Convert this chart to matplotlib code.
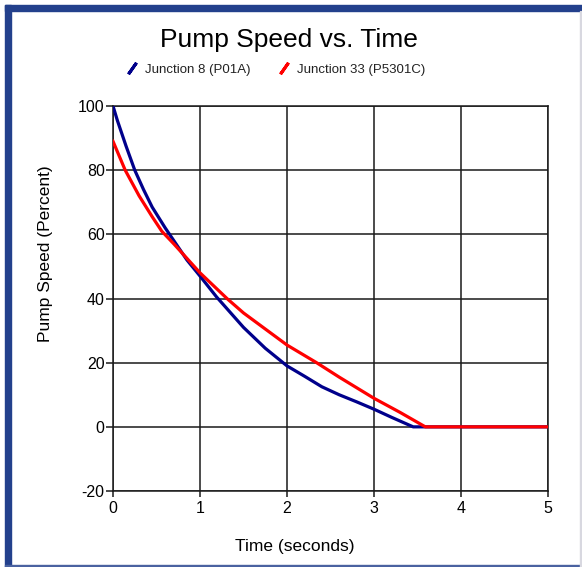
import matplotlib
matplotlib.use("Agg")
import matplotlib.pyplot as plt
from matplotlib.lines import Line2D
from matplotlib.patches import Rectangle

plt.rcParams['font.family'] = ['Liberation Sans', 'DejaVu Sans']
plt.rcParams['axes.unicode_minus'] = False

# Datos
t_j8 = [0.0, 0.05, 0.1, 0.15, 0.25, 0.35, 0.45, 0.6, 0.7, 0.85, 1.0, 1.19, 1.5, 1.75,
        2.0, 2.2, 2.4, 2.6, 2.8, 3.0, 3.2, 3.45, 4.0, 5.0]
speed_j8 = [100, 95.5, 91.5, 87.5, 80, 74, 68.5, 62, 58, 52, 47, 40.5, 31, 24.5,
            19, 15.8, 12.5, 10, 7.8, 5.5, 3, 0, 0, 0]

t_j33 = [0.0, 0.07, 0.14, 0.3, 0.45, 0.56, 0.7, 0.85, 1.0, 1.31, 1.5, 1.75,
         2.0, 2.34, 2.6, 3.0, 3.3, 3.59, 4.0, 5.0]
speed_j33 = [89, 84.5, 80, 72, 65.5, 61, 57, 52.5, 48, 40, 35.5, 30.5,
             25.5, 20, 15.5, 8.9, 4.5, 0, 0, 0]

labels = ["Junction 8 (P01A)", "Junction 33 (P5301C)"]
colors = ["#00008b", "#ff0000"]

x_ticks = [0, 1, 2, 3, 4, 5]
y_ticks = [-20, 0, 20, 40, 60, 80, 100]

fig = plt.figure(figsize=(5.82, 5.67), dpi=100)
ax = fig.add_axes([0.1942, 0.134, 0.7474, 0.679])

ax.plot(t_j8, speed_j8, color=colors[0], lw=2.3, zorder=3)
ax.plot(t_j33, speed_j33, color=colors[1], lw=2.3, zorder=3)

ax.set_xlim(0, 5)
ax.set_ylim(-20, 100)
ax.set_xticks(x_ticks)
ax.set_yticks(y_ticks)
ax.grid(True, color="#1a1a1a", lw=1.1)
ax.set_axisbelow(True)
for s in ax.spines.values():
    s.set_color("#1a1a1a")
    s.set_linewidth(1.1)
ax.tick_params(axis="y", length=5, width=1.1, color="#1a1a1a", labelsize=11.5, pad=1)
ax.tick_params(axis="x", length=4, width=1.1, color="#1a1a1a", labelsize=11.5, pad=3)

ax.set_xlabel("Time (seconds)", fontsize=12.5)
ax.xaxis.set_label_coords(0.418, -0.145)
ax.xaxis.label.set_va("center")
ax.set_ylabel("Pump Speed (Percent)", fontsize=12.5)
ax.yaxis.set_label_coords(-0.156, 0.616)
ax.yaxis.label.set_va("center")

fig.text(0.497, 1 - 40 / 567, "Pump Speed vs. Time", ha="center", va="center", fontsize=19)

# Leyenda con marcas diagonales
handles = [Line2D([], [], color=c, ls="none", marker=(2, 2, -35), markersize=10,
                  markeredgewidth=2.2) for c in colors]
fig.legend(handles, labels, loc="center", bbox_to_anchor=(0.473, 1 - 70 / 567),
           ncol=2, frameon=False, fontsize=9.5, handlelength=1.0, handletextpad=0.5,
           columnspacing=2.0, labelcolor="#222222")

# Marco azul de la imagen
W, H = 582, 567
border = "#23408c"
fig.patches.append(Rectangle((5 / W, 0), 6 / W, 1 - 5 / H, transform=fig.transFigure,
                             color=border, zorder=10))
fig.patches.append(Rectangle((5 / W, 1 - 11 / H), 1, 6 / H, transform=fig.transFigure,
                             color=border, zorder=10))
fig.patches.append(Rectangle((5 / W, 0), 1, 2 / H, transform=fig.transFigure,
                             color="#4a62a0", zorder=10))
fig.patches.append(Rectangle((1 - 2 / W, 0), 1 / W, 1 - 11 / H, transform=fig.transFigure,
                             color="#d8d8e0", zorder=10))

fig.savefig("out.png", dpi=100)
